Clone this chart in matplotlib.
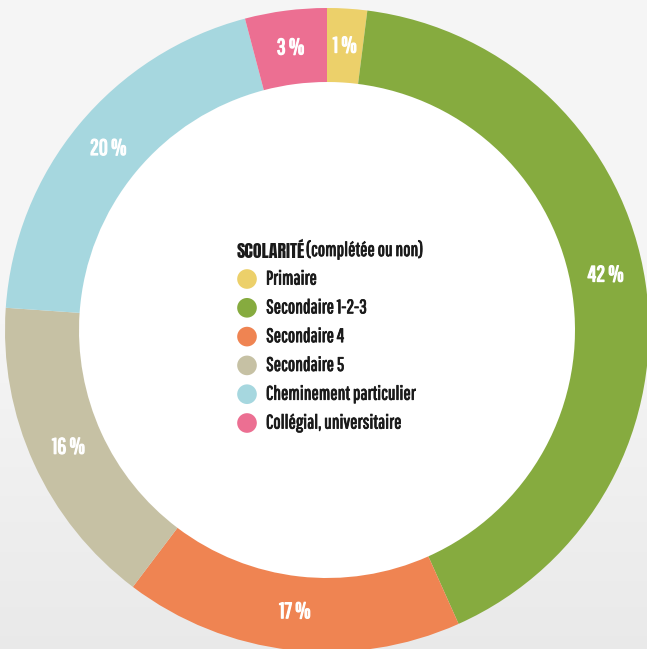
import numpy as np
import matplotlib
matplotlib.use("Agg")
import matplotlib.pyplot as plt
import matplotlib.patheffects as pe
from matplotlib.patches import Circle

# Scolarité (complétée ou non)
categories = ["Primaire", "Secondaire 1-2-3", "Secondaire 4", "Secondaire 5",
              "Cheminement particulier", "Collégial, universitaire"]
values = [2.0, 41.3, 17.0, 15.8, 19.8, 4.1]
labels = ["1 %", "42 %", "17 %", "16 %", "20 %", "3 %"]  # étiquettes affichées
colors = ["#ecd06a", "#86ab3f", "#ef8452", "#c6c1a4", "#a6d7df", "#ec6f92"]

TXT = ['Pathway Gothic One', 'DejaVu Sans']
TITRE = ['Anton', 'DejaVu Sans']
plt.rcParams['font.family'] = TXT

W, H = 647, 649
fig = plt.figure(figsize=(W / 100, H / 100), dpi=100)
fig.patch.set_facecolor("#f5f5f5")
ax = fig.add_axes([0, 0, 1, 1])
# 1 unité = 1 pixel, centre de l'anneau à l'origine
cx, cy = 327, 330

# fond légèrement plus gris en bas
grad = np.linspace(0, 1, 200)[:, None]
grad = np.clip((grad - 0.5) / 0.5, 0, 1)
bg = np.ones((200, 2, 3)) * (0.961 - 0.045 * grad)[:, :, None]
ax.imshow(bg, extent=(-cx, W - cx, -(H - cy), cy), origin="upper",
          aspect="auto", zorder=0)

R = 322
w = 74
ax.pie(values, colors=colors, radius=R, startangle=90, counterclock=False,
       wedgeprops=dict(width=w, edgecolor="none", zorder=2),
       center=(0, 0), frame=True)
ax.add_patch(Circle((0, 0), R - w, color="white", zorder=1.5))
ax.set_xlim(-cx, W - cx)
ax.set_ylim(-(H - cy), cy)
ax.set_aspect("equal")
ax.axis("off")

gras_blanc = [pe.withStroke(linewidth=0.9, foreground="white")]
gras_noir = [pe.withStroke(linewidth=0.6, foreground="#1a1a1a")]

# étiquettes au milieu de l'anneau (42 % un peu remonté comme sur l'original)
decalage = {"42 %": 2.6}
start = 90.0
total = sum(values)
for v, lab in zip(values, labels):
    mid = start - v / total * 360 / 2 + decalage.get(lab, 0)
    start -= v / total * 360
    r = R - w / 2 - 1
    x = r * np.cos(np.radians(mid))
    y = r * np.sin(np.radians(mid))
    ax.text(x, y, lab, ha="center", va="center", color="white",
            fontsize=16, zorder=5, path_effects=gras_blanc)

# légende au centre
tx, ty = 237 - cx, cy - 250
ax.text(tx, ty, "SCOLARITÉ", ha="left", va="center", fontsize=13,
        family=TITRE, color="#1a1a1a", zorder=5)
ax.text(306 - cx, ty, "(complétée ou non)", ha="left", va="center",
        fontsize=14, color="#1a1a1a", zorder=5, path_effects=gras_noir)
for i, (cat, col) in enumerate(zip(categories, colors)):
    yy = cy - (279 + i * 28.8)
    ax.scatter(247 - cx, yy, s=200, color=col, edgecolors="none", zorder=5)
    ax.text(266 - cx, yy, cat, ha="left", va="center", fontsize=14,
            color="#1a1a1a", zorder=5, path_effects=gras_noir)

fig.savefig("out.png", dpi=100, facecolor=fig.get_facecolor())
